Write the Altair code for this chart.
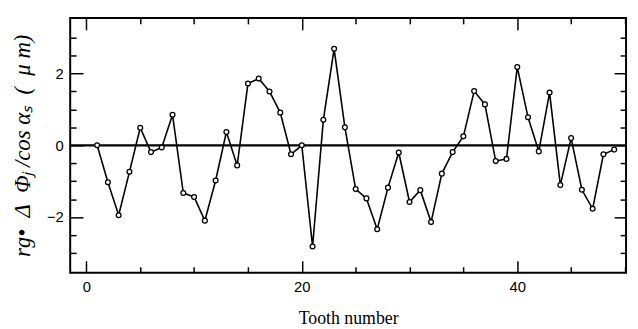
import altair as alt
import pandas as pd

teeth = list(range(1, 50))
deviation = [0.0, -1.03, -1.95, -0.74, 0.49, -0.19, -0.06, 0.85, -1.33, -1.44,
             -2.10, -0.98, 0.37, -0.56, 1.72, 1.86, 1.50, 0.91, -0.25, 0.0,
             -2.82, 0.71, 2.69, 0.50, -1.22, -1.48, -2.34, -1.18, -0.20, -1.58,
             -1.25, -2.14, -0.79, -0.19, 0.25, 1.51, 1.14, -0.44, -0.38, 2.18,
             0.78, -0.17, 1.47, -1.11, 0.20, -1.24, -1.77, -0.25, -0.12]

x_major = [0, 20, 40]
x_minor = [5, 10, 15, 25, 30, 35, 45, 50]
y_major = [-2, 0, 2]
y_minor = [-3, -2.5, -1.5, -1, -0.5, 0.5, 1, 1.5, 2.5, 3]

x_title = "Tooth number"
EN, MID, THIN = "\u2002", "\u2005", "\u2009"
y_title = ("r\u0261\u2022" + EN + "\u0394" + EN + "\u03a6\u2c7c" + THIN + "/cos" + MID
           + "\u03b1\u209b" + EN + "(" + EN + "\u03bc" + MID + "m)")

df = pd.DataFrame({"tooth": teeth, "dev": deviation})

xs = alt.Scale(domain=[-1.5, 50.1], nice=False, zero=False)
ys = alt.Scale(domain=[-3.55, 3.55], nice=False, zero=False)

LABEL_FONT = "Liberation Sans"
TITLE_FONT = "Liberation Serif"


def axis(orient, values, size, labels=False, title=None, **kw):
    cfg = dict(orient=orient, values=values, tickSize=size, offset=-size,
               domain=False, grid=False, tickColor="black", tickWidth=1.5,
               labels=labels, title=title)
    cfg.update(kw)
    return alt.Axis(**cfg)


base = alt.Chart(df)

ax_bottom_major = base.mark_point(opacity=0).encode(
    x=alt.X("tooth:Q", scale=xs, axis=axis(
        "bottom", x_major, 12, labels=True, title=x_title,
        labelFont=LABEL_FONT, labelFontSize=15, labelColor="black", labelPadding=7,
        titleFont=TITLE_FONT, titleFontSize=18, titleFontWeight="normal",
        titleColor="black", titlePadding=15)),
    y=alt.Y("dev:Q", scale=ys, axis=axis(
        "left", y_major, 13, labels=True, title=y_title,
        labelFont=LABEL_FONT, labelFontSize=15, labelColor="black", labelPadding=7,
        titleFont=TITLE_FONT, titleFontSize=23, titleFontWeight="normal",
        titleFontStyle="italic", titleColor="black", titlePadding=12)),
)
ax_minor_1 = base.mark_point(opacity=0).encode(
    x=alt.X("tooth:Q", scale=xs, axis=axis("bottom", x_minor, 6)),
    y=alt.Y("dev:Q", scale=ys, axis=axis("left", y_minor, 6)),
)
ax_top_major = base.mark_point(opacity=0).encode(
    x=alt.X("tooth:Q", scale=xs, axis=axis("top", x_major, 12)),
    y=alt.Y("dev:Q", scale=ys, axis=axis("right", y_major, 12)),
)
ax_minor_2 = base.mark_point(opacity=0).encode(
    x=alt.X("tooth:Q", scale=xs, axis=axis("top", x_minor, 6)),
    y=alt.Y("dev:Q", scale=ys, axis=axis("right", y_minor, 6)),
)

zero_rule = alt.Chart(pd.DataFrame({"z": [0]})).mark_rule(
    color="black", strokeWidth=2.2).encode(
    y=alt.Y("z:Q", scale=ys, axis=None))

line = base.mark_line(color="black", strokeWidth=1.6).encode(
    x=alt.X("tooth:Q", scale=xs, axis=None),
    y=alt.Y("dev:Q", scale=ys, axis=None),
)
points = base.mark_point(shape="circle", filled=True, fill="white",
                         stroke="black", strokeWidth=1.3, size=24,
                         opacity=1).encode(
    x=alt.X("tooth:Q", scale=xs, axis=None),
    y=alt.Y("dev:Q", scale=ys, axis=None),
)

chart = alt.layer(
    ax_bottom_major, ax_minor_1, ax_top_major, ax_minor_2,
    zero_rule, line, points
).resolve_axis(x="independent", y="independent").properties(
    width=563, height=258,
    background="white",
    autosize=alt.AutoSizeParams(type="none"),
    padding={"left": 63, "top": 8, "right": 4, "bottom": 55},
).configure_view(stroke="black", strokeWidth=2)

chart.save("out.html", embed_options={"renderer": "svg", "actions": False})
